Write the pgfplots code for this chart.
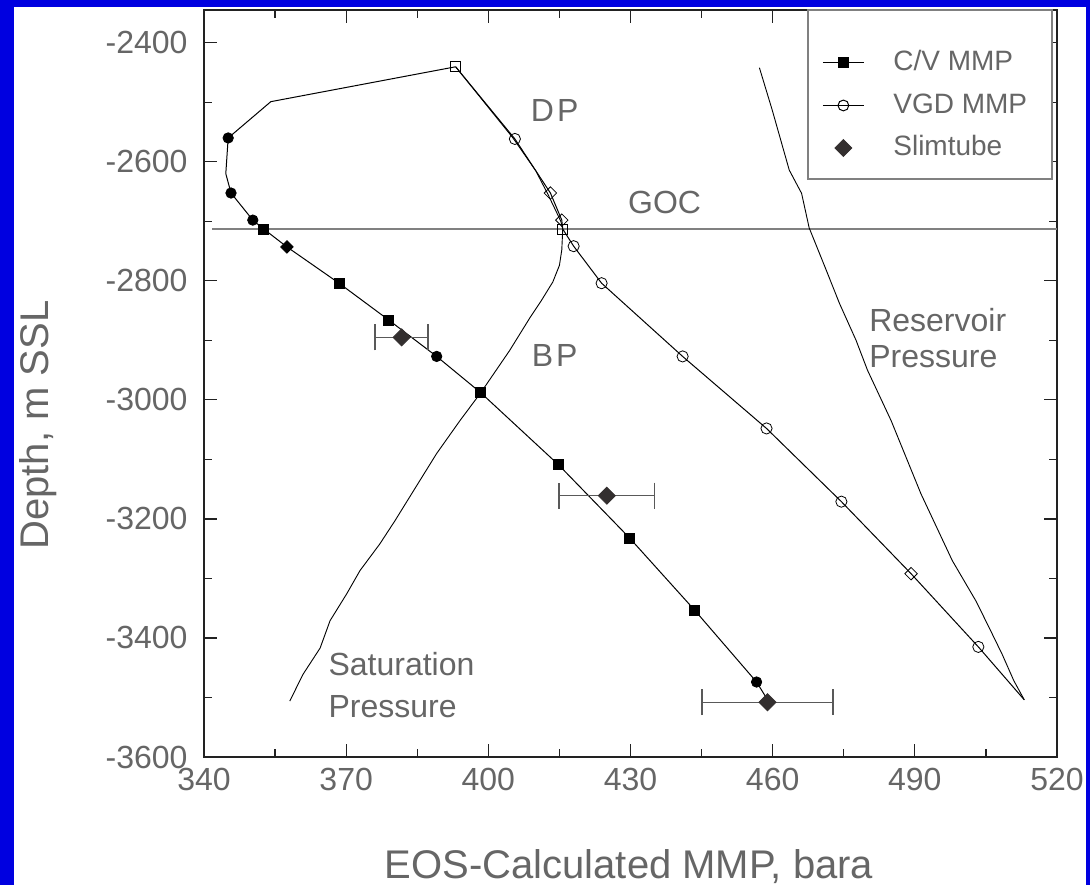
\documentclass[border=0pt]{standalone}
\usepackage{fontspec}
\setmainfont{Liberation Sans}
\usepackage{pgfplots}
\pgfplotsset{compat=1.18}
\definecolor{bgblue}{HTML}{0000E0}
\definecolor{txtgray}{HTML}{666666}
\definecolor{axdark}{HTML}{222222}
\definecolor{slim}{HTML}{332F2F}
\begin{document}
\begin{tikzpicture}
\path[use as bounding box] (0,0) rectangle (545pt,442.5pt);
\fill[bgblue] (0,0) rectangle (545pt,442.5pt);
\fill[white] (7pt,0) rectangle (543pt,439pt);
\begin{axis}[%
at={(102pt,64pt)}, anchor=south west,
scale only axis, width=426.5pt, height=373.5pt,
xmin=340, xmax=520, ymin=-3600, ymax=-2345,
xtick={340,370,...,520}, ytick={-3600,-3400,...,-2400},
minor x tick num=1, minor y tick num=1,
major tick length=6.5pt, minor tick length=4pt,
tick style={axdark, line width=0.6pt},
axis line style={axdark, line width=1pt},
tick label style={font=\fontsize{16}{19}\selectfont, text=txtgray},
/pgf/number format/assume math mode=true,
/pgf/number format/1000 sep={},
yticklabel style={xshift=-4.7pt},
xticklabel style={yshift=-2.2pt},
legend image code/.code={\draw[mark repeat=2,mark phase=2,#1] plot coordinates {(0cm,0cm)(0.36cm,0cm)(0.72cm,0cm)};},
legend style={draw=none, fill=none, at={(0.7245,0.8722)}, anchor=west,
  inner xsep=0pt, inner ysep=0pt, row sep=7.25pt, column sep=12.5pt,
  font=\fontsize{14}{16}\selectfont, text=txtgray,
  nodes={inner ysep=0pt, text height=11pt, text depth=3pt}},
legend cell align=left,
clip=false,
]

% legend box
\draw[gray, line width=0.8pt, fill=white] (rel axis cs:0.7081,0.7738) rectangle (rel axis cs:0.9941,1);

\addlegendimage{black, line width=0.5pt, mark=square*, mark size=2.5pt}
\addlegendentry{C/V MMP}
\addlegendimage{black, line width=0.5pt, mark=o, mark size=2.7pt, mark options={fill=white}}
\addlegendentry{VGD MMP}
\addlegendimage{only marks, mark=square*, mark size=3pt, mark options={rotate=45, fill=slim, draw=slim}}
\addlegendentry{Slimtube}

% GOC
\addplot[forget plot, color=gray, line width=0.8pt] coordinates {(341.7,-2713) (520,-2713)};

% saturation pressure (BP below GOC, DP above)
\addplot[forget plot, black, line width=0.45pt] coordinates {
(358.1,-3506) (360.9,-3461) (364.5,-3417) (366.6,-3371) (370.1,-3326)
(372.9,-3287) (377.1,-3242) (380.3,-3203) (383.8,-3158) (389.1,-3090)
(394.0,-3035) (398.4,-2988) (404.5,-2917) (408.7,-2863) (411.2,-2833)
(413.6,-2802) (415.0,-2774) (415.5,-2748) (415.7,-2713) (415.3,-2700)
(412.6,-2655) (410.0,-2615) (405.2,-2560) (393.1,-2440.4)
};

% reservoir pressure
\addplot[forget plot, black, line width=0.45pt] coordinates {
(457.2,-2442) (459.9,-2513) (463.5,-2614) (466.1,-2653) (467.7,-2711)
(471.3,-2782) (474.1,-2838) (477.6,-2900) (480.0,-2950) (484.0,-3018)
(485.0,-3035) (491.3,-3158) (497.9,-3270) (502.9,-3338) (505.7,-3383)
(508.4,-3427) (510.9,-3472) (513.1,-3504)
};

% C/V MMP line
\addplot[forget plot, black, line width=0.5pt] coordinates {
(393.1,-2440.4) (354.1,-2499) (345.1,-2560) (344.6,-2620) (345.7,-2652.5)
(350.3,-2698) (352.6,-2713) (357.5,-2743) (368.5,-2804) (379.0,-2866)
(389.1,-2927) (398.4,-2988) (414.8,-3109) (429.8,-3232) (443.5,-3353)
(456.6,-3474) (458.7,-3501)
};
\addplot[forget plot, only marks, black, mark=*, mark size=2.6pt] coordinates {
(345.1,-2560) (345.7,-2652.5) (350.3,-2698) (389.1,-2927) (456.6,-3474)
};
\addplot[forget plot, only marks, black, mark=square*, mark size=2.5pt] coordinates {
(352.6,-2713) (368.5,-2804) (379.0,-2866) (398.4,-2988) (414.8,-3109)
(429.8,-3232) (443.5,-3353)
};
\addplot[forget plot, only marks, black, mark=square*, mark size=2.2pt, mark options={rotate=45}] coordinates {
(357.5,-2743)
};

% VGD MMP line
\addplot[forget plot, black, line width=0.5pt] coordinates {
(393.1,-2440.4) (405.6,-2561.6) (413.1,-2652.5) (415.5,-2698) (415.7,-2713)
(418.0,-2741.8) (423.9,-2804) (441.0,-2927) (458.7,-3048) (474.5,-3171)
(489.2,-3292) (503.4,-3415) (513.1,-3504)
};
\addplot[forget plot, only marks, black, mark=o, mark size=2.8pt, mark options={fill=white}] coordinates {
(405.6,-2561.6) (418.0,-2741.8) (423.9,-2804) (441.0,-2927) (458.7,-3048)
(474.5,-3171) (503.4,-3415)
};
\addplot[forget plot, only marks, black, mark=square, mark size=2.5pt, mark options={fill=white}] coordinates {
(393.1,-2440.4) (415.7,-2713)
};
\addplot[forget plot, only marks, black, mark=square, mark size=2.2pt, mark options={fill=white, rotate=45}] coordinates {
(413.1,-2652.5) (415.5,-2698) (489.2,-3292)
};

% slimtube
\addplot[forget plot, only marks, mark=square*, mark size=3pt,
  mark options={rotate=45, fill=slim, draw=slim},
  error bars/.cd, x dir=both, x explicit,
  error bar style={gray!70!black, line width=0.7pt},
  error mark options={rotate=90, gray!70!black, line width=0.7pt, mark size=6.5pt}]
coordinates {
(381.7,-2895) +- (5.6,0)
(425.0,-3161) +- (10.1,0)
(458.9,-3508) +- (13.8,0)
};

\node[font=\fontsize{16}{19}\selectfont, text=txtgray] at (axis cs:414,-2513) {D\kern1.5pt P};
\node[font=\fontsize{16}{19}\selectfont, text=txtgray] at (axis cs:437.2,-2669) {GOC};
\node[font=\fontsize{16}{19}\selectfont, text=txtgray] at (axis cs:414,-2925) {B\kern1.5pt P};
\node[font=\fontsize{16}{19}\selectfont, text=txtgray, anchor=west, inner xsep=0pt] at (axis cs:480.3,-2866) {Reservoir};
\node[font=\fontsize{16}{19}\selectfont, text=txtgray, anchor=west, inner xsep=0pt] at (axis cs:480.3,-2927) {Pressure};
\node[font=\fontsize{16}{19}\selectfont, text=txtgray, anchor=west, inner xsep=0pt] at (axis cs:366.2,-3444) {Saturation};
\node[font=\fontsize{16}{19}\selectfont, text=txtgray, anchor=west, inner xsep=0pt] at (axis cs:366.2,-3516) {Pressure};
\end{axis}
\node[rotate=90, anchor=base, font=\fontsize{20}{24}\selectfont, text=txtgray] at (24pt,230pt) {Depth, m SSL};
\node[anchor=base, font=\fontsize{20}{24}\selectfont, text=txtgray] at (314.5pt,3.5pt) {EOS-Calculated MMP, bara};
\end{tikzpicture}
\end{document}
